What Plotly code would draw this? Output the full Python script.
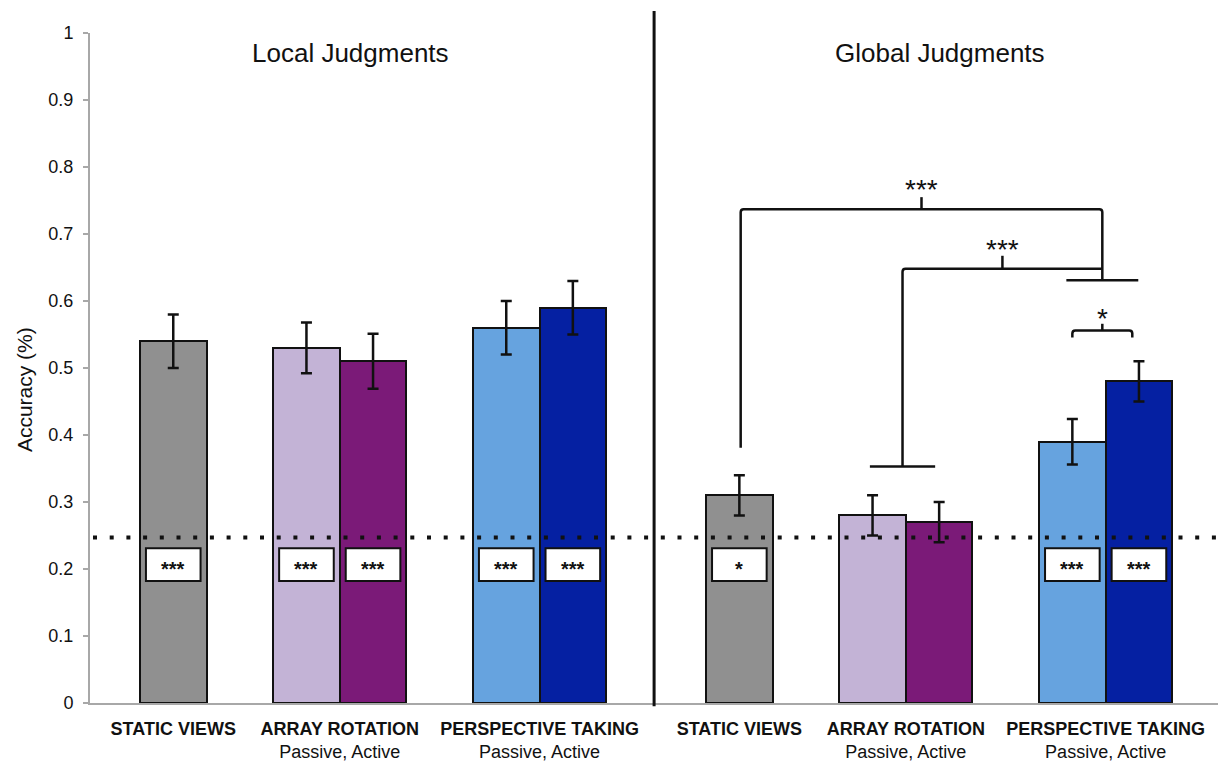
import plotly.graph_objects as go

# ---- data -------------------------------------------------------------
conditions = ["STATIC VIEWS", "ARRAY ROTATION", "PERSPECTIVE TAKING"]
condition_notes = ["", "Passive, Active", "Passive, Active"]
panel_titles = ["Local Judgments", "Global Judgments"]

# bar order inside each panel: static, array passive, array active,
# perspective passive, perspective active
local_acc = [0.54, 0.53, 0.51, 0.56, 0.59]
local_err = [0.04, 0.038, 0.041, 0.04, 0.04]
local_sig = ["***", "***", "***", "***", "***"]

global_acc = [0.31, 0.28, 0.27, 0.39, 0.48]
global_err = [0.03, 0.03, 0.03, 0.034, 0.03]
global_sig = ["*", "", "", "***", "***"]

chance_level = 0.247

y_tick_vals = [0, 0.1, 0.2, 0.3, 0.4, 0.5, 0.6, 0.7, 0.8, 0.9, 1]
y_tick_text = ["0", "0.1", "0.2", "0.3", "0.4", "0.5", "0.6", "0.7", "0.8", "0.9", "1"]

# pairwise comparisons in the global panel
comparison_labels = ["***", "***", "*"]

# ---- layout geometry (x in bar-width units) ---------------------------
FONT = "Liberation Sans, Arial, Helvetica, sans-serif"
W, H = 1218, 763
M_L, M_R, M_T, M_B = 90, 0, 33, 60
UNIT_PX = 66.6
X_MAX = (W - M_L - M_R) / UNIT_PX

group_centers = [1.25, 3.75, 6.75, 9.75, 12.25, 15.25]
divider_x = 8.47
bar_colors = ["#909090", "#c3b3d6", "#7b1a78", "#66a3df", "#0520a2"]


def bar_positions(centers):
    static_c, array_c, persp_c = centers
    return [static_c, array_c - 0.5, array_c + 0.5, persp_c - 0.5, persp_c + 0.5]


local_x = bar_positions(group_centers[:3])
global_x = bar_positions(group_centers[3:])

fig = go.Figure()

fig.add_trace(go.Bar(
    x=local_x + global_x,
    y=local_acc + global_acc,
    width=1,
    marker=dict(color=bar_colors * 2, line=dict(color="#111111", width=2)),
    error_y=dict(type="data", array=local_err + global_err,
                 color="#111111", thickness=2.5, width=5.5),
    showlegend=False,
    hoverinfo="x+y",
))

shapes = []
annotations = []

# significance-vs-chance boxes inside the bars
BOX_HALF = 0.41
BOX_Y0, BOX_Y1 = 0.182, 0.231
for xs, sigs in ((local_x, local_sig), (global_x, global_sig)):
    for x, s in zip(xs, sigs):
        if not s:
            continue
        shapes.append(dict(type="rect", xref="x", yref="y",
                           x0=x - BOX_HALF, x1=x + BOX_HALF, y0=BOX_Y0, y1=BOX_Y1,
                           fillcolor="white", line=dict(color="#111111", width=2),
                           layer="above"))
        annotations.append(dict(x=x, y=(BOX_Y0 + BOX_Y1) / 2, xref="x", yref="y",
                                text="<b>" + s + "</b>", showarrow=False,
                                font=dict(family=FONT, size=20, color="#111111"),
                                xanchor="center", yanchor="middle", yshift=-4))

# chance level
shapes.append(dict(type="line", xref="x", yref="y",
                   x0=0.045, x1=X_MAX, y0=chance_level, y1=chance_level,
                   line=dict(color="#111111", width=4, dash="4px,12.7px"),
                   layer="above"))

# panel divider
shapes.append(dict(type="line", xref="x", yref="paper",
                   x0=divider_x, x1=divider_x, y0=-0.005, y1=1.033,
                   line=dict(color="#111111", width=3), layer="above"))

# comparison brackets in the global panel
g_static, g_array, g_persp = group_centers[3:]
persp_join = g_persp - 0.05
BR_LINE = dict(color="#111111", width=2.5)
rx, ry = 0.045, 0.0045


def corner_path(x_left, y_left_bottom, y_top, x_right, y_right_bottom):
    return (f"M {x_left},{y_left_bottom} V {y_top - ry} "
            f"Q {x_left},{y_top} {x_left + rx},{y_top} "
            f"H {x_right - rx} Q {x_right},{y_top} {x_right},{y_top - ry} "
            f"V {y_right_bottom}")


# static vs perspective
b1_top, b1_tick = 0.737, 0.755
b1_left = g_static + 0.02
shapes.append(dict(type="path", xref="x", yref="y", layer="above", line=BR_LINE,
                   path=corner_path(b1_left, 0.381, b1_top, persp_join, 0.631)))
b1_mid = (b1_left + persp_join) / 2
shapes.append(dict(type="line", xref="x", yref="y", layer="above", line=BR_LINE,
                   x0=b1_mid, x1=b1_mid, y0=b1_top, y1=b1_tick))
shapes.append(dict(type="line", xref="x", yref="y", layer="above", line=BR_LINE,
                   x0=persp_join - 0.54, x1=persp_join + 0.54, y0=0.631, y1=0.631))

# array vs perspective
b2_top, b2_tick = 0.648, 0.6675
b2_left = g_array - 0.05
shapes.append(dict(type="path", xref="x", yref="y", layer="above", line=BR_LINE,
                   path=f"M {b2_left},0.353 V {b2_top - ry} Q {b2_left},{b2_top} "
                        f"{b2_left + rx},{b2_top} H {persp_join}"))
b2_mid = (b2_left + persp_join) / 2
shapes.append(dict(type="line", xref="x", yref="y", layer="above", line=BR_LINE,
                   x0=b2_mid, x1=b2_mid, y0=b2_top, y1=b2_tick))
shapes.append(dict(type="line", xref="x", yref="y", layer="above", line=BR_LINE,
                   x0=b2_left - 0.49, x1=b2_left + 0.49, y0=0.353, y1=0.353))

# passive vs active perspective taking
b3_y, b3_tick = 0.556, 0.566
b3_l, b3_r = global_x[3], persp_join + 0.45
shapes.append(dict(type="path", xref="x", yref="y", layer="above", line=BR_LINE,
                   path=corner_path(b3_l, 0.5455, b3_y, b3_r, 0.5455)))
b3_mid = (b3_l + b3_r) / 2
shapes.append(dict(type="line", xref="x", yref="y", layer="above", line=BR_LINE,
                   x0=b3_mid, x1=b3_mid, y0=b3_y, y1=b3_tick))

for label, xm, ym in zip(comparison_labels,
                         [b1_mid, b2_mid, b3_mid],
                         [0.7725, 0.683, 0.580]):
    annotations.append(dict(x=xm, y=ym, xref="x", yref="y", text=label,
                            showarrow=False, xanchor="center", yanchor="middle",
                            font=dict(family=FONT, size=28, color="#111111"),
                            yshift=-4))

# panel titles
for title, px in zip(panel_titles, [350, 940]):
    annotations.append(dict(x=(px - M_L) / (W - M_L - M_R), y=(H - M_B - 53) / (H - M_T - M_B),
                            xref="paper", yref="paper", text=title, showarrow=False,
                            xanchor="center", yanchor="middle",
                            font=dict(family=FONT, size=26, color="#111111")))

# y-axis title
annotations.append(dict(x=0, y=0.467, xref="paper", yref="paper", xshift=-66,
                        text="Accuracy (%)", textangle=-90, showarrow=False,
                        xanchor="center", yanchor="middle",
                        font=dict(family=FONT, size=21, color="#111111")))

tick_text = []
for name, note in zip(conditions * 2, condition_notes * 2):
    label = f"<b>{name}</b>"
    if note:
        label += "<br>" + note
    tick_text.append(label)

fig.update_layout(
    width=W, height=H,
    margin=dict(l=M_L, r=M_R, t=M_T, b=M_B, pad=0),
    paper_bgcolor="white", plot_bgcolor="white",
    shapes=shapes, annotations=annotations,
    bargap=0,
    xaxis=dict(range=[0, X_MAX], showgrid=False, zeroline=False, automargin=False,
               showline=True, linecolor="#a8a8a8", linewidth=2,
               tickmode="array", tickvals=group_centers, ticktext=tick_text,
               ticks="", ticklabelstandoff=8,
               tickfont=dict(family=FONT, size=18, color="#111111")),
    yaxis=dict(range=[0, 1], showgrid=False, zeroline=False, automargin=False,
               showline=True, linecolor="#a8a8a8", linewidth=2,
               tickmode="array", tickvals=y_tick_vals, ticktext=y_tick_text,
               ticks="outside", ticklen=5, tickwidth=2, tickcolor="#a8a8a8",
               ticklabelstandoff=6,
               tickfont=dict(family=FONT, size=18, color="#111111")),
)

fig.write_html("out.html")
